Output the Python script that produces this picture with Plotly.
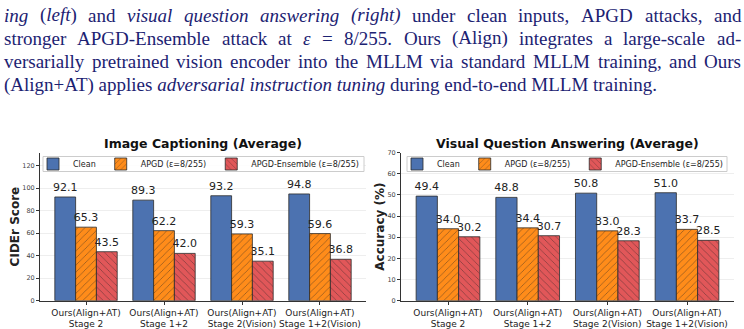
import plotly.graph_objects as go

categories = ["Ours(Align+AT)<br>Stage 2", "Ours(Align+AT)<br>Stage 1+2",
              "Ours(Align+AT)<br>Stage 2(Vision)", "Ours(Align+AT)<br>Stage 1+2(Vision)"]
series_names = ["Clean", "APGD (ε=8/255)", "APGD-Ensemble (ε=8/255)"]
cap_clean = [92.1, 89.3, 93.2, 94.8]
cap_apgd = [65.3, 62.2, 59.3, 59.6]
cap_ens = [43.5, 42.0, 35.1, 36.8]
vqa_clean = [49.4, 48.8, 50.8, 51.0]
vqa_apgd = [34.0, 34.4, 33.0, 33.7]
vqa_ens = [30.2, 30.7, 28.3, 28.5]
cap_ticks = [0, 20, 40, 60, 80, 100, 120]
vqa_ticks = [0, 10, 20, 30, 40, 50, 60, 70]

# caption text above the charts (justified lines, word tokens; "*" marks italic segments)
caption_justified = [
    ["*ing", "(|*left|)", "and", "*visual", "*question", "*answering", "*(right)", "under", "clean",
     "inputs,", "APGD", "attacks,", "and"],
    ["stronger", "APGD-Ensemble", "attack", "at", "*ε", "=", "8/255.", "Ours", "(Align)", "integrates",
     "a", "large-scale", "ad-"],
    ["versarially", "pretrained", "vision", "encoder", "into", "the", "MLLM", "via", "standard", "MLLM",
     "training,", "and", "Ours"],
]
caption_last = "(Align+AT) applies <i>adversarial instruction tuning</i> during end-to-end MLLM training."

colors = ["#4C72B0", "#FF8C1A", "#E15759"]
shapes = ["", "/", "\\"]

W, H = 744, 329
def px(x):
    return x / W
def py(y):
    return (H - y) / H

# approximate Times (Liberation Serif) advance widths, per 1000 em
REG = dict(zip("abcdefghijklmnopqrstuvwxyz", [444, 500, 444, 500, 444, 333, 500, 500, 278, 278, 500, 278, 778,
                                             500, 500, 500, 500, 333, 389, 278, 500, 500, 722, 500, 500, 444]))
REG.update(dict(zip("ABCDEFGHIJKLMNOPQRSTUVWXYZ", [722, 667, 667, 722, 611, 556, 722, 722, 333, 389, 722, 611, 889,
                                                   722, 722, 556, 722, 667, 556, 611, 722, 722, 944, 722, 722, 611])))
REG.update({"(": 333, ")": 333, ",": 250, ".": 250, "-": 333, "+": 564, "/": 278, "=": 564, " ": 250})
REG.update({str(d): 500 for d in range(10)})
ITA = dict(REG)
ITA.update(dict(zip("abcdefghijklmnopqrstuvwxyz", [500, 500, 444, 500, 444, 278, 500, 500, 278, 278, 444, 278, 722,
                                                   500, 500, 500, 500, 389, 389, 278, 500, 444, 667, 444, 444, 389])))
ITA["ε"] = 440
FS = 19

def token_parts(tok):
    parts = []
    for seg in tok.split("|"):
        if seg.startswith("*"):
            parts.append((seg[1:], True))
        else:
            parts.append((seg, False))
    return parts

def token_width(tok):
    w = 0
    for s, it in token_parts(tok):
        tbl = ITA if it else REG
        w += sum(tbl.get(c, 500) for c in s)
    return w * FS / 1000

def token_html(tok):
    return "".join(f"<i>{s}</i>" if it else s for s, it in token_parts(tok))

fig = go.Figure()
for sub, (vals, xa, ya, lg) in enumerate([
        ((cap_clean, cap_apgd, cap_ens), "x", "y", "legend"),
        ((vqa_clean, vqa_apgd, vqa_ens), "x2", "y2", "legend2")]):
    for i, v in enumerate(vals):
        fig.add_trace(go.Bar(
            x=categories, y=v, name=series_names[i], xaxis=xa, yaxis=ya, legend=lg,
            marker=dict(color=colors[i], line=dict(color="#2b2b2b", width=0.8),
                        pattern=dict(shape=shapes[i], fgcolor="#222222", size=5, solidity=0.15)),
            text=[f"{t:.1f}" for t in v], textposition="outside", constraintext="none",
            textfont=dict(size=11, color="#222222", family="DejaVu Sans"),
            cliponaxis=False,
        ))

axis_common = dict(showline=True, linecolor="#333333", linewidth=1, mirror=False,
                   ticks="outside", ticklen=3, tickcolor="#333333", automargin=False)
xcommon = dict(range=[-0.59, 3.59], type="category", tickangle=0,
               tickfont=dict(size=9, color="#222222"), **axis_common)
ycommon = dict(tickfont=dict(size=6.5, color="#444444"), showgrid=True, gridcolor="#eeeeee",
               zeroline=False, **axis_common)
legend_common = dict(orientation="h", yanchor="middle", xanchor="left", bgcolor="rgba(0,0,0,0)",
                     borderwidth=0, font=dict(size=8), itemwidth=30, tracegroupgap=0)
fig.update_layout(
    width=W, height=H, margin=dict(l=0, r=0, t=0, b=0),
    paper_bgcolor="white", plot_bgcolor="white",
    barmode="group", bargap=0.2, bargroupgap=0,
    font=dict(family="DejaVu Sans", color="#222222"),
    xaxis=dict(domain=[px(40), px(366)], anchor="y", **xcommon),
    yaxis=dict(domain=[py(300.7), py(152.5)], range=[0, 131.6], tickvals=cap_ticks,
               title=dict(text="<b>CIDEr Score</b>", font=dict(size=12), standoff=0),
               anchor="x", **ycommon),
    xaxis2=dict(domain=[px(401), px(734)], anchor="y2", **xcommon),
    yaxis2=dict(domain=[py(300.7), py(152.5)], range=[0, 70], tickvals=vqa_ticks,
                title=dict(text="<b>Accuracy (%)</b>", font=dict(size=12), standoff=0),
                anchor="x2", **ycommon),
    legend=dict(x=px(33), y=py(164), **legend_common),
    legend2=dict(x=px(397), y=py(164), **legend_common),
)

# legend frames
for x0, x1 in [(43, 364), (407, 727)]:
    fig.add_shape(type="rect", xref="paper", yref="paper", x0=px(x0), x1=px(x1), y0=py(171.5), y1=py(156.5),
                  fillcolor="rgba(255,255,255,0.85)", line=dict(color="#cccccc", width=1), layer="above")

fig.add_annotation(text="<b>Image Captioning (Average)</b>", x=px(203), y=py(143), xref="paper", yref="paper",
                   xanchor="center", yanchor="middle", showarrow=False, font=dict(size=12.5, color="#111111"))
fig.add_annotation(text="<b>Visual Question Answering (Average)</b>", x=px(567), y=py(143), xref="paper",
                   yref="paper", xanchor="center", yanchor="middle", showarrow=False,
                   font=dict(size=12.5, color="#111111"))

tfont = dict(family="Liberation Serif", size=FS, color="#1c2272")
left_edge, right_edge = 4, 741
for k, toks in enumerate(caption_justified):
    yy = py(15 + 23.4 * k)
    widths = [token_width(t) for t in toks]
    gap = (right_edge - left_edge - sum(widths)) / (len(toks) - 1)
    xpos = left_edge
    for t, w in zip(toks, widths):
        fig.add_annotation(text=token_html(t), x=px(xpos - 2), y=yy, xref="paper", yref="paper",
                           xanchor="left", yanchor="middle", showarrow=False, font=tfont)
        xpos += w + gap
fig.add_annotation(text=caption_last, x=px(left_edge - 2), y=py(15 + 23.4 * 3), xref="paper", yref="paper",
                   xanchor="left", yanchor="middle", showarrow=False, font=tfont)

fig.write_html("out.html")
